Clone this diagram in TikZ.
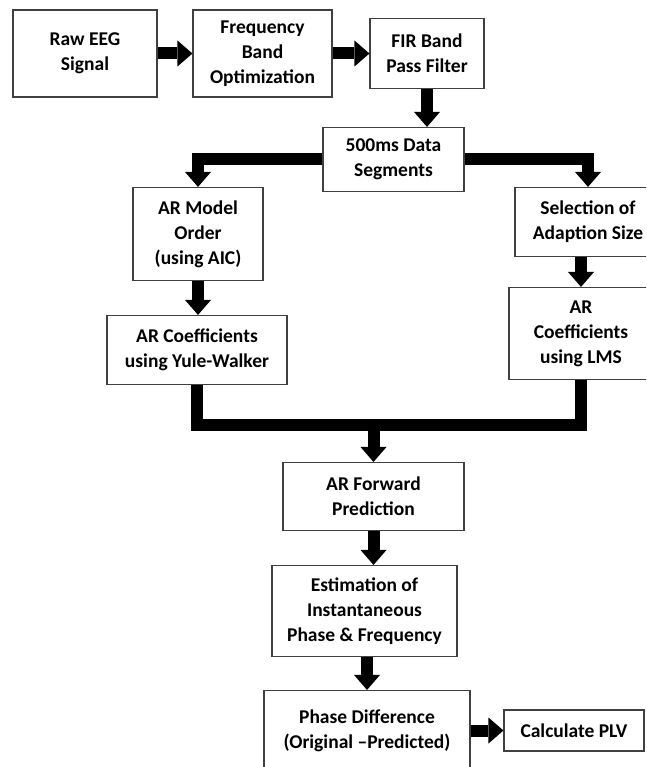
\documentclass[tikz,border=0pt]{standalone}
\usepackage{fontspec}
\setmainfont{Carlito}
\usetikzlibrary{positioning,arrows.meta}

\begin{document}
\begin{tikzpicture}[
    x=1pt,y=-1pt,
    font=\fontsize{19.5}{25}\selectfont\bfseries,
    blk/.style={draw=black!75,line width=1.1pt,align=center,inner sep=0pt},
    fat/.style={line width=12pt},
    fatarrow/.style={fat,-{Triangle[width=26pt,length=15pt,line width=0pt]}}
    ]
        \useasboundingbox (0,0) rectangle (646,767);
        \clip (0,0) rectangle (646,767);
        \node [blk,minimum width=144pt,minimum height=87pt](raw) at (85,53.5) {Raw EEG\\Signal};
        \node [blk,minimum width=139pt,minimum height=87pt](freq) [right of=raw,node distance=177.5pt] {Frequency\\Band\\Optimization};
        \node [blk,minimum width=114pt,minimum height=70pt](fir) [right of=freq,node distance=164.5pt] {FIR Band\\Pass Filter};
        \node [blk,minimum width=141pt,minimum height=64pt](seg) [below of=fir,node distance=106pt,xshift=-33.5pt] {500ms Data\\Segments};
        \node [blk,minimum width=130pt,minimum height=93pt](armod) [below of=seg,node distance=74.5pt,xshift=-195.5pt] {AR Model\\Order\\(using AIC)};
        \node [blk,minimum width=146pt,minimum height=69pt](sel) [below of=seg,node distance=62.5pt,xshift=194.5pt] {Selection of\\Adaption Size};
        \node [blk,minimum width=180pt,minimum height=69pt](yw) [below of=armod,node distance=116pt,xshift=-1pt] {AR Coefficients\\using Yule-Walker};
        \node [blk,minimum width=144pt,minimum height=92pt](lms) [below of=sel,node distance=111.5pt,xshift=-7pt] {AR\\Coefficients\\using LMS};
        \node [blk,minimum width=181pt,minimum height=68pt](fwd) [below of=seg,node distance=337pt,xshift=-20pt] {AR Forward\\Prediction};
        \node [blk,minimum width=185pt,minimum height=91pt](est) [below of=fwd,node distance=114.5pt,xshift=-9pt] {Estimation of\\Instantaneous\\Phase \& Frequency};
        \node [blk,minimum width=206pt,minimum height=80pt](pd) [below of=est,node distance=119.5pt,xshift=2.5pt] {Phase Difference\\(Original –Predicted)};
        \node [blk,minimum width=140pt,minimum height=41pt](plv) [right of=pd,node distance=207pt] {Calculate PLV};
        \coordinate [above of=fwd,node distance=72pt] (join);
        \draw [fatarrow] (raw) -- (freq);
        \draw [fatarrow] (freq.east) -- (fir.west |- freq.east);
        \draw [fatarrow] (fir.south) -- (fir.south |- seg.north);
        \draw [fatarrow] (seg.west) -| (armod.north);
        \draw [fatarrow] (seg.east) -| (sel.north);
        \draw [fatarrow] (armod.south) -- (armod.south |- yw.north);
        \draw [fatarrow] (sel.south -| lms.north) -- (lms.north);
        \draw [fat] (yw.south) |- (join) -| (lms.south);
        \draw [fatarrow] (join) -- (fwd);
        \draw [fatarrow] (fwd.south) -- (fwd.south |- est.north);
        \draw [fatarrow] (est.south -| pd.north) -- (pd.north);
        \draw [fatarrow] (pd.east |- plv.west) -- (plv.west);
\end{tikzpicture}
\end{document}
